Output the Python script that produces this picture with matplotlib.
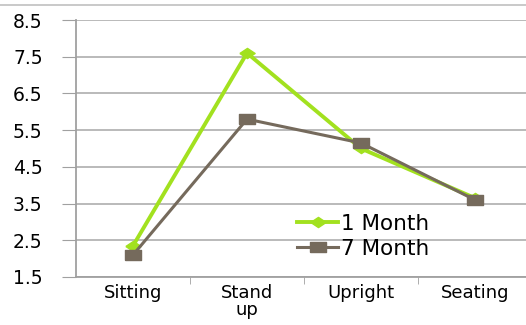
import matplotlib.pyplot as plt

categories = ['Sitting', 'Stand\nup', 'Upright', 'Seating']
month1 = [2.35, 7.6, 5.0, 3.65]
month7 = [2.1, 5.8, 5.15, 3.6]
yticks = [1.5, 2.5, 3.5, 4.5, 5.5, 6.5, 7.5, 8.5]

fig = plt.figure(figsize=(5.26, 3.25), dpi=100)
ax = fig.add_axes([76/526, 48/325, 456/526, 257/325])

x = list(range(len(categories)))
diamond = [(-1.5, 0), (0, 1), (1.5, 0), (0, -1), (-1.5, 0)]
rect = [(-1.6, -1), (1.6, -1), (1.6, 1), (-1.6, 1), (-1.6, -1)]

ax.plot(x, month1, color='#a2e11f', lw=2.8, marker=diamond, ms=11,
        label='1 Month', zorder=3)
ax.plot(x, month7, color='#756a5c', lw=2.2, marker=rect, ms=12,
        label='7 Month', zorder=4)

ax.set_ylim(1.5, 8.5)
ax.set_yticks(yticks)
ax.set_yticklabels(['%.1f' % v for v in yticks])
ax.set_xlim(-0.5, 3.5)
ax.set_xticks(x)
ax.set_xticklabels(categories, linespacing=0.95)
ax.set_xticks([0.5, 1.5, 2.5], minor=True)
ax.tick_params(axis='x', which='major', length=0, pad=5)
ax.tick_params(axis='x', which='minor', length=5, color='#a0a0a0')
ax.tick_params(axis='y', length=10, color='#a0a0a0', pad=14)
for lab in ax.get_yticklabels():
    lab.set_fontsize(13.5)
for lab in ax.get_xticklabels():
    lab.set_fontsize(13)

ax.yaxis.grid(True, color='#b4b4b4', lw=1.3)
ax.set_axisbelow(True)
for s in ['top', 'right']:
    ax.spines[s].set_visible(False)
ax.spines['left'].set_color('#a0a0a0')
ax.spines['bottom'].set_color('#a0a0a0')
ax.spines['left'].set_linewidth(1.3)
ax.spines['bottom'].set_linewidth(1.3)

leg = ax.legend(loc='upper left', bbox_to_anchor=(0.485, 0.247), frameon=False,
                fontsize=15.5, handlelength=1.9, handletextpad=0.15,
                labelspacing=0.25, borderaxespad=0, borderpad=0)

fig.add_artist(plt.Line2D([0, 1], [1 - 5/325, 1 - 5/325], color='#c0c0c0', lw=1.2))

fig.savefig('out.png', dpi=100)
